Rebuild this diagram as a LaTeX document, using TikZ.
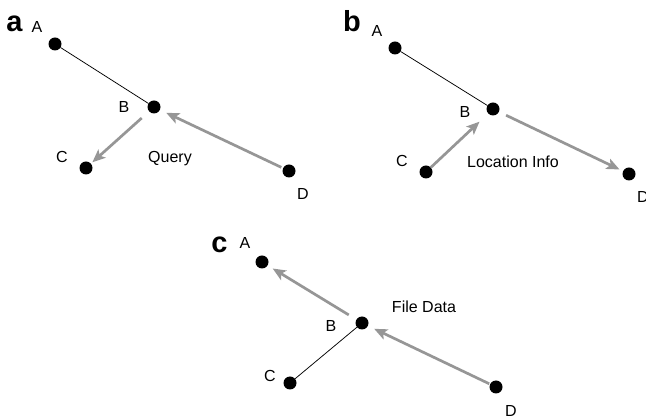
\documentclass[tikz,border=0pt]{standalone}
\usepackage{fontspec}
\setmainfont{Liberation Sans}
\usetikzlibrary{arrows.meta}
\definecolor{flowgray}{RGB}{150,150,150}
\tikzset{
  dot/.style={circle,fill=black,inner sep=0pt,minimum size=13pt,outer sep=0pt},
  lbl/.style={font=\fontsize{16}{18}\selectfont,anchor=base,inner sep=0pt},
  tag/.style={font=\fontsize{29}{31}\selectfont\bfseries,anchor=base,inner sep=0pt},
  link/.style={draw=black,line width=0.75pt},
  flow/.style={draw=flowgray,line width=2.7pt,-{Stealth[length=13pt,width=11pt,inset=3pt]}}
}
\begin{document}
\begin{tikzpicture}[x=1pt,y=-1pt]
        \useasboundingbox (0,0) rectangle (646,419);
        % panel a
        \node[tag] (tagA) at (14.5,32) {a};
        \node[dot] (aA) at (55,44) {};
        \node[dot] (aB) at (154,107) {};
        \node[dot] (aC) at (86,168) {};
        \node[dot] (aD) at (289,171) {};
        \node[lbl] (aAl) at (37,33) {A};
        \node[lbl] (aBl) at (124,113) {B};
        \node[lbl] (aCl) at (62,163) {C};
        \node[lbl] (aDl) at (303,200) {D};
        \node[lbl] (query) at (170,163) {Query};
        \draw[link] (aA) -- (aB);
        \draw[flow,shorten <=10pt,shorten >=2pt] (aB) -- (aC);
        \draw[flow,shorten <=2pt,shorten >=7pt] (aD) -- (aB);
        % panel b
        \node[tag] (tagB) at (352,32) {b};
        \node[dot] (bA) at (395,48) {};
        \node[dot] (bB) at (493,109) {};
        \node[dot] (bC) at (426,172) {};
        \node[dot] (bD) at (629,174) {};
        \node[lbl] (bAl) at (377,37) {A};
        \node[lbl] (bBl) at (465,118) {B};
        \node[lbl] (bCl) at (402,167) {C};
        \node[lbl] (bDl) at (643,203) {D};
        \node[lbl] (locinfo) at (513,168) {Location Info};
        \draw[link] (bA) -- (bB);
        \draw[flow,shorten <=0pt,shorten >=12pt] (bC) -- (bB);
        \draw[flow,shorten <=8pt,shorten >=4pt] (bB) -- (bD);
        % panel c
        \node[tag] (tagC) at (219.5,253) {c};
        \node[dot] (cA) at (262,262) {};
        \node[dot] (cB) at (362,323) {};
        \node[dot] (cC) at (290,383) {};
        \node[dot] (cD) at (496,387) {};
        \node[lbl] (cAl) at (245,249) {A};
        \node[lbl] (cBl) at (331,332) {B};
        \node[lbl] (cCl) at (270,382) {C};
        \node[lbl] (cDl) at (511,416.5) {D};
        \node[lbl] (filedata) at (424,313) {File Data};
        \draw[link] (cC) -- (cB);
        \draw[flow,shorten <=9pt,shorten >=6pt] (cB) -- (cA);
        \draw[flow,shorten <=1pt,shorten >=7pt] (cD) -- (cB);
    \end{tikzpicture}
\end{document}
